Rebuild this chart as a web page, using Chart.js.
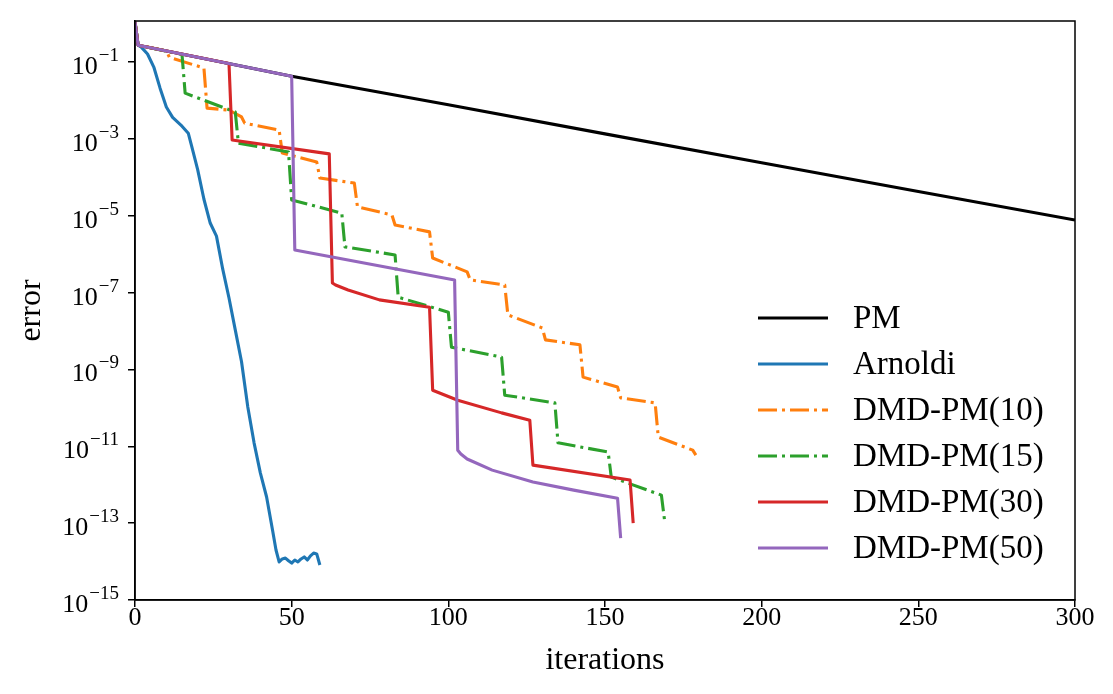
<!DOCTYPE html>
<html>
<head>
<meta charset="utf-8">
<script src="https://cdn.jsdelivr.net/npm/chart.js@4.4.0/dist/chart.umd.min.js"></script>
<style>
  html, body { margin: 0; padding: 0; background: #fff; }
  #wrap { width: 1113px; height: 694px; }
</style>
</head>
<body>
<div id="wrap"><canvas id="c" width="1113" height="694"></canvas></div>
<script>
// ---------------- data ----------------
const seriesLabels = ['PM', 'Arnoldi', 'DMD-PM(10)', 'DMD-PM(15)', 'DMD-PM(30)', 'DMD-PM(50)'];

const pmIter = [0, 1, 50, 100, 150, 200, 250, 300];
const pmErr  = [1.10, 2.75e-1, 4.27e-2, 7.76e-3, 1.35e-3, 2.40e-4, 4.27e-5, 7.76e-6];

const arnoldiIter = [0, 1, 2, 4, 6, 8, 10, 12, 15, 17, 18, 20, 22, 24, 26, 28, 30, 32, 34, 36, 38, 40, 42, 44, 45, 46, 47, 48, 49, 50, 51, 52, 53, 54, 55, 56, 57, 58, 59];
const arnoldiErr  = [1.10, 2.75e-1, 2.45e-1, 1.62e-1, 7.41e-2, 2.09e-2, 6.76e-3, 3.63e-3, 2.14e-3, 1.41e-3, 6.92e-4, 1.58e-4, 2.69e-5, 6.46e-6, 2.95e-6, 4.07e-7, 7.24e-8, 1.07e-8, 1.58e-9, 1.05e-10, 1.23e-11, 2.04e-12, 4.79e-13, 5.89e-14, 2.00e-14, 9.77e-15, 1.17e-14, 1.23e-14, 1.05e-14, 9.12e-15, 1.10e-14, 9.77e-15, 1.17e-14, 1.32e-14, 1.10e-14, 1.41e-14, 1.66e-14, 1.58e-14, 8.13e-15];

const dmd10Iter = [0, 1, 10, 11, 21, 22, 23, 30, 34, 35, 46, 47, 58, 59, 70, 71, 82, 83, 94, 95, 106, 107, 118, 119, 130, 131, 142, 143, 154, 155, 166, 167, 178, 179];
const dmd10Err  = [1.10, 2.75e-1, 1.95e-1, 1.32e-1, 7.41e-2, 6.92e-2, 6.31e-3, 5.62e-3, 3.72e-3, 2.57e-3, 1.70e-3, 4.27e-4, 2.51e-4, 9.55e-5, 7.08e-5, 1.70e-5, 1.05e-5, 5.75e-6, 3.80e-6, 7.94e-7, 3.47e-7, 2.14e-7, 1.58e-7, 2.63e-8, 1.20e-8, 5.89e-9, 4.37e-9, 6.31e-10, 3.47e-10, 1.82e-10, 1.35e-10, 1.74e-11, 7.94e-12, 5.89e-12];

const dmd15Iter = [0, 1, 15, 16, 32, 33, 49, 50, 66, 67, 83, 84, 100, 101, 117, 118, 134, 135, 151, 152, 168, 169];
const dmd15Err  = [1.10, 2.75e-1, 1.58e-1, 1.55e-2, 5.01e-3, 7.76e-4, 4.57e-4, 2.57e-5, 1.17e-5, 1.55e-6, 9.55e-7, 7.59e-8, 3.09e-8, 3.80e-9, 2.09e-9, 2.14e-10, 1.35e-10, 1.23e-11, 7.08e-12, 1.58e-12, 5.37e-13, 1.20e-13];

const dmd30Iter = [0, 1, 30, 31, 62, 63, 64, 68, 78, 94, 95, 103, 117, 126, 127, 158, 159];
const dmd30Err  = [1.10, 2.75e-1, 9.12e-2, 9.33e-4, 4.07e-4, 1.78e-7, 1.58e-7, 1.17e-7, 6.46e-8, 4.17e-8, 2.88e-10, 1.58e-10, 7.41e-11, 4.79e-11, 3.24e-12, 1.32e-12, 1.00e-13];

const dmd50Iter = [0, 1, 50, 51, 102, 103, 104, 106, 114, 127, 140, 154, 155];
const dmd50Err  = [1.10, 2.75e-1, 4.27e-2, 1.29e-6, 2.14e-7, 7.94e-12, 6.31e-12, 4.68e-12, 2.40e-12, 1.17e-12, 7.24e-13, 4.47e-13, 4.07e-14];

const xTicks = [0, 50, 100, 150, 200, 250, 300];
const yTickExponents = [-1, -3, -5, -7, -9, -11, -13, -15];

// ---------------- styling ----------------
const SERIF = '"Liberation Serif", "DejaVu Serif", serif';
const colors = ['#000000', '#1f77b4', '#ff7f0e', '#2ca02c', '#d62728', '#9467bd'];
const dashDot = [19, 5, 3, 5];
const dashes = [[], [], dashDot, dashDot, [], []];
const LW = 3.1;

function pts(xs, ys) { return xs.map((x, i) => ({ x: x, y: ys[i] })); }
const seriesData = [
  pts(pmIter, pmErr), pts(arnoldiIter, arnoldiErr), pts(dmd10Iter, dmd10Err),
  pts(dmd15Iter, dmd15Err), pts(dmd30Iter, dmd30Err), pts(dmd50Iter, dmd50Err)
];

const datasets = seriesLabels.map((lab, i) => ({
  label: lab,
  data: seriesData[i],
  borderColor: colors[i],
  backgroundColor: colors[i],
  borderWidth: LW,
  borderDash: dashes[i],
  borderCapStyle: 'butt',
  borderJoinStyle: 'round',
  pointRadius: 0,
  tension: 0,
  fill: false,
  order: seriesLabels.length - i
}));

const overlay = {
  id: 'overlay',
  afterDraw(chart) {
    const ctx = chart.ctx;
    const a = chart.chartArea;
    const y = chart.scales.y;
    ctx.save();
    // frame
    ctx.strokeStyle = '#000';
    ctx.lineWidth = 1.5;
    ctx.strokeRect(a.left, a.top, a.right - a.left, a.bottom - a.top);
    // y tick labels 10^exp
    ctx.fillStyle = '#000';
    ctx.textBaseline = 'alphabetic';
    yTickExponents.forEach(e => {
      const py = y.getPixelForValue(Math.pow(10, e));
      const exp = '\u2212' + Math.abs(e);
      ctx.font = '19px ' + SERIF;
      const ew = ctx.measureText(exp).width;
      const xr = a.left - 16;
      ctx.textAlign = 'left';
      ctx.fillText(exp, xr - ew, py - 1);
      ctx.font = '26px ' + SERIF;
      ctx.textAlign = 'right';
      ctx.fillText('10', xr - ew - 1, py + 12);
    });
    // legend
    const lx0 = 758, lx1 = 828, tx = 853, ly0 = 318, dy = 46;
    chart.data.datasets.forEach((ds, i) => {
      const ly = ly0 + i * dy;
      ctx.beginPath();
      ctx.setLineDash(ds.borderDash || []);
      ctx.strokeStyle = ds.borderColor;
      ctx.lineWidth = LW;
      ctx.lineCap = 'butt';
      ctx.moveTo(lx0, ly);
      ctx.lineTo(lx1, ly);
      ctx.stroke();
      ctx.setLineDash([]);
      ctx.font = '33px ' + SERIF;
      ctx.textAlign = 'left';
      ctx.textBaseline = 'middle';
      ctx.fillStyle = '#000';
      ctx.fillText(ds.label, tx, ly + 1);
    });
    ctx.restore();
  }
};

new Chart(document.getElementById('c'), {
  type: 'line',
  data: { datasets: datasets },
  plugins: [overlay],
  options: {
    responsive: false,
    devicePixelRatio: 1,
    animation: false,
    events: [],
    layout: { padding: { top: 21, right: 38, left: 0, bottom: 0 } },
    plugins: { legend: { display: false }, tooltip: { enabled: false }, title: { display: false } },
    scales: {
      x: {
        type: 'linear',
        min: 0, max: 300,
        afterFit: s => { s.height = 94; },
        afterBuildTicks: s => { s.ticks = xTicks.map(v => ({ value: v })); },
        ticks: { color: '#000', font: { family: SERIF, size: 26 }, padding: -4, maxRotation: 0 },
        grid: { drawOnChartArea: false, drawTicks: true, tickLength: 7, color: '#000', lineWidth: 1.5 },
        border: { display: true, color: '#000', width: 1.5 },
        title: { display: true, text: 'iterations', color: '#000', font: { family: SERIF, size: 32 }, padding: { top: 0, bottom: 14 } }
      },
      y: {
        type: 'logarithmic',
        min: 1e-15, max: 1.17,
        afterFit: s => { s.width = 135; },
        afterBuildTicks: s => { s.ticks = yTickExponents.map(e => ({ value: Math.pow(10, e) })); },
        ticks: { callback: () => '', font: { family: SERIF, size: 22 } },
        grid: { drawOnChartArea: false, drawTicks: true, tickLength: 7, color: '#000', lineWidth: 1.5 },
        border: { display: true, color: '#000', width: 1.5 },
        title: { display: true, text: 'error', color: '#000', font: { family: SERIF, size: 32 }, padding: { top: 12, bottom: 0 } }
      }
    }
  }
});
</script>
</body>
</html>
